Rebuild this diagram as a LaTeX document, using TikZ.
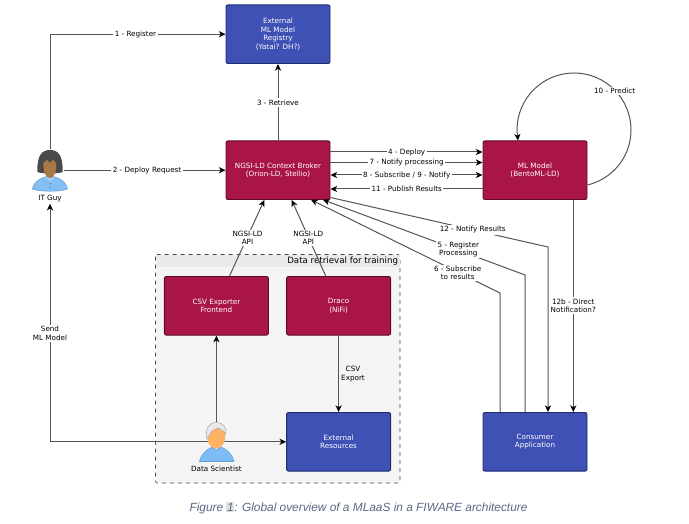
\documentclass[tikz,border=0pt]{standalone}
\usepackage{fontspec}
\setmainfont{DejaVu Sans}
\newfontfamily\captionfont{Liberation Sans}
\usetikzlibrary{arrows.meta}

\definecolor{boxblue}{HTML}{3F51B5}
\definecolor{edgeblue}{HTML}{1F2A6B}
\definecolor{boxred}{HTML}{A91549}
\definecolor{edgered}{HTML}{5E0B2A}
\definecolor{linegrey}{HTML}{555555}

\tikzset{
	every picture/.style={line width=0.75pt},
	tip/.tip={Stealth[black,length=5pt,width=4.6pt,inset=1.4pt]},
	box/.style={rounded corners=1.5pt, minimum width=78pt, minimum height=44pt, inner sep=0pt, align=center, text=white, font=\fontsize{5.4}{6.4}\selectfont, line width=0.7pt},
	redbox/.style={box, fill=boxred, draw=edgered},
	bluebox/.style={box, fill=boxblue, draw=edgeblue},
	flow/.style={draw=linegrey, line width=0.75pt, -tip},
	twoway/.style={draw=linegrey, line width=0.75pt, tip-tip},
	back/.style={draw=linegrey, line width=0.75pt, tip-},
	lbl/.style={fill=white, inner sep=1pt, align=center, font=\fontsize{5.4}{6.4}\selectfont},
	plain/.style={inner sep=1pt, align=center, font=\fontsize{5.4}{6.4}\selectfont},
	person/.style={minimum width=19.5pt, minimum height=30pt, inner sep=0pt}
}

\begin{document}
\begin{tikzpicture}[x=0.75pt,y=0.75pt,yscale=-1]
	\useasboundingbox (0,0) rectangle (689,524);

	% group behind everything
	\draw [dashed, rounded corners=1.5pt, fill={rgb, 255:red, 244; green, 244; blue, 244 }, draw=black!70, line width=0.5pt] (155.5,254.5) rectangle (400,483);
	\fill [fill={rgb, 255:red, 234; green, 234; blue, 234 }] (156,255) rectangle (399.6,267);
	\node (grouptitle) [anchor=east, inner sep=0pt, font=\fontsize{6.5}{7}\selectfont] at (398.5,261.5) {Data retrieval for training};

	% boxes
	\node (registry) [bluebox] at (278,34.2) {External\\ML Model\\Registry\\(Yatai? DH?)};
	\node (broker) [redbox] at (278,170.2) {NGSI-LD Context Broker\\(Orion-LD, Stellio)};
	\node (model) [redbox] at (535,170.2) {ML Model\\(BentoML-LD)};
	\node (exporter) [redbox] at (216.4,305.8) {CSV Exporter\\Frontend};
	\node (draco) [redbox] at (338.6,305.8) {Draco\\(NiFi)};
	\node (resources) [bluebox] at (338.6,441.8) {External\\Resources};
	\node (consumer) [bluebox] at (535,441.8) {Consumer\\Application};

	% people
	\node (itguy) [person, minimum height=30.75pt] at (50,170.5) {};
	\node (itguylabel) [plain] at (50,198.5) {IT Guy};
	\node (scientist) [person] at (216.4,442) {};
	\node (scientistlabel) [plain] at (216.4,469) {Data Scientist};

	% bends and free ends
	\coordinate (bendnotify) at (548,247);
	\coordinate (bendregister) at (525,275);
	\coordinate (bendsubscribe) at (500,293);
	\coordinate (tipregister) at (323,199.8);
	\coordinate (tipsubscribe) at (311,199.8);

	% connectors
	\draw [flow] (itguy.north) |- (registry.west);
	\draw [flow] (itguy.east |- broker.west) -- (broker.west);
	\draw [flow] (broker.north) -- (registry.south);
	\draw [flow] (broker.east |- 0,152) -- (model.west |- 0,152);
	\draw [flow] (broker.east |- 0,162.5) -- (model.west |- 0,162.5);
	\draw [twoway] (broker.east |- 0,175) -- (model.west |- 0,175);
	\draw [back] (broker.east |- 0,189) -- (model.west |- 0,189);
	\draw [flow] (model.south -| 573.3,0) -- (consumer.north -| 573.3,0);
	\draw [flow] (broker.east |- 0,197.5) -- (bendnotify) -- (consumer.north -| bendnotify);
	\draw [flow] (consumer.north -| bendregister) -- (bendregister) -- (tipregister);
	\draw [flow] (consumer.north -| bendsubscribe) -- (bendsubscribe) -- (tipsubscribe);
	\draw [flow] (exporter.north -| 229.5,0) -- (264.3,0 |- broker.south);
	\draw [flow] (draco.north -| 325.7,0) -- (291.7,0 |- broker.south);
	\draw [flow] (draco.south) -- (resources.north);
	\draw [flow] (scientist.north) -- (exporter.south);
	\draw [twoway] (itguylabel.south) |- (resources.west);
	\draw [flow] (model.east |- 0,185) .. controls (612.8,178.9) and (631,156.5) .. (631,130) .. controls (631,98.5) and (605.5,73) .. (574,73) .. controls (542.5,73) and (517,98.5) .. (517,130) -- (518,140.6);

	% connector labels
	\node (lblregister) [lbl] at (135.5,34.5) {1 - Register};
	\node (lbldeployreq) [lbl] at (147,170.3) {2 - Deploy Request};
	\node (lblretrieve) [lbl] at (278,102.5) {3 - Retrieve};
	\node (lbldeploy) [lbl] at (406.7,152.3) {4 - Deploy};
	\node (lblnotifyproc) [lbl] at (406.7,162.5) {7 - Notify processing};
	\node (lblsubscribe) [lbl] at (406.7,175.2) {8 - Subscribe / 9 - Notify};
	\node (lblpublish) [lbl] at (406.7,189) {11 - Publish Results};
	\node (lblpredict) [lbl] at (614.7,90.7) {10 - Predict};
	\node (lblnotify) [lbl] at (472.7,230) {12 - Notify Results};
	\node (lblprocessing) [lbl] at (458.3,249.3) {5 - Register\\Processing};
	\node (lblresults) [lbl] at (457.7,273) {6 - Subscribe\\to results};
	\node (lbldirect) [lbl] at (573.3,305.7) {12b - Direct\\Notification?};
	\node (lblapileft) [lbl] at (247.5,238) {NGSI-LD\\API};
	\node (lblapiright) [lbl] at (308.3,238) {NGSI-LD\\API};
	\node (lblsend) [lbl] at (50,333.5) {Send\\ML Model};
	\node (lblcsv) [plain] at (353,374) {CSV\\Export};

	% IT guy
	\draw [fill={rgb, 255:red, 132; green, 190; blue, 242 }, draw={rgb, 255:red, 100; green, 160; blue, 215 }, line width=0.4pt] (32.3,189) .. controls (34,181) and (42,177) .. (50,176) .. controls (58,177) and (66,181) .. (67.5,189) .. controls (60,192) and (40,192) .. cycle;
	\draw [fill={rgb, 255:red, 165; green, 210; blue, 248 }, draw=none] (44,176.5) -- (50,181) -- (56,176.5) -- (50,178.5) -- cycle;
	\fill [fill={rgb, 255:red, 74; green, 74; blue, 74 }] (37.3,172) .. controls (37,155) and (42,150) .. (50,150) .. controls (58,150) and (63,155) .. (62.7,172) .. controls (58,174) and (42,174) .. cycle;
	\fill [fill={rgb, 255:red, 168; green, 120; blue, 72 }] (43.5,163) .. controls (43,172) and (46,178) .. (50,178) .. controls (54,178) and (56.8,172) .. (56.2,163) -- (53,160) -- (50,163) -- (47,160) -- cycle;
	\fill [fill={rgb, 255:red, 90; green, 150; blue, 210 }] (50,183.5) circle [radius=0.8] (50,187.5) circle [radius=0.8];

	% data scientist
	\draw [fill={rgb, 255:red, 125; green, 188; blue, 245 }, draw={rgb, 255:red, 100; green, 160; blue, 215 }, line width=0.4pt] (199.5,461.5) .. controls (201,453) and (208,449) .. (212,447) -- (216.4,450) -- (221,447) .. controls (226,449) and (232,453) .. (234,461.5) -- cycle;
	\fill [fill={rgb, 255:red, 255; green, 178; blue, 100 }] (216.2,436.5) ellipse [x radius=9.2, y radius=12];
	\draw [fill={rgb, 255:red, 232; green, 232; blue, 232 }, draw={rgb, 255:red, 170; green, 170; blue, 170 }, line width=0.4pt] (207,439) .. controls (205,430) and (208,422.5) .. (216.3,422.5) .. controls (223,422.5) and (227,427) .. (225.5,434) .. controls (224.5,432) and (221,429) .. (218,428) .. controls (215,430) and (212,430) .. (211,432) .. controls (209.5,434) and (209,437) .. cycle;

	% caption
	\node (caption) [inner sep=0pt, text={rgb, 255:red, 88; green, 104; blue, 132 }, font=\captionfont\itshape\fontsize{8.9}{11}\selectfont] at (358.5,508) {Figure {\fboxsep=0.5pt\colorbox{black!12}{1}}: Global overview of a MLaaS in a FIWARE architecture};
\end{tikzpicture}
\end{document}
